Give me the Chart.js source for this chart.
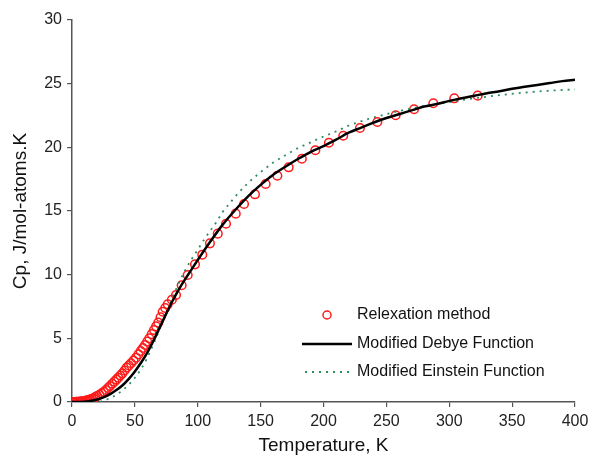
<!DOCTYPE html>
<html>
<head>
<meta charset="utf-8">
<script src="https://cdn.jsdelivr.net/npm/chart.js@4.4.0/dist/chart.umd.min.js"></script>
<style>
  html, body { margin: 0; padding: 0; background: #fff; }
  #wrap { width: 590px; height: 457px; }
</style>
</head>
<body>
<div id="wrap"><canvas id="chart1" width="590" height="457"></canvas></div>
<script>
// measured heat capacity (relaxation method)
let relaxT = [0.5, 1.5, 2.5, 3.5, 4.5, 5.5, 6.5, 7.5, 8.5, 9.5, 10.5, 11.5, 12.5, 13.5, 14.5, 15.7, 17, 18.5, 20, 21.8,
  23.6, 25.3, 27, 28.6, 30.2, 32, 33.7, 35.3, 36.8, 38.4, 40, 41.8, 43.5, 45.2, 46.9, 48.9, 50.9, 52.8, 54.6, 56.4,
  58.1, 59.8, 61.5, 63.4, 65.2, 66.9, 68.6, 70.4, 72.1, 74.1, 76.1, 79.4, 82.7, 87.2, 92.0, 97.8, 103.6, 109.7, 115.9, 122.5,
  130.2, 136.8, 145.5, 154.0, 163.3, 172.3, 182.8, 193.5, 204.3, 215.7, 229.0, 242.8, 257.4, 272.0, 287.3, 304.0, 322.6];
let relaxCp = [0.0, 0.0, 0.0, 0.01, 0.01, 0.02, 0.03, 0.04, 0.05, 0.07, 0.09, 0.11, 0.14, 0.17, 0.2, 0.24, 0.3, 0.38, 0.47, 0.57,
  0.68, 0.8, 0.94, 1.1, 1.26, 1.43, 1.6, 1.76, 1.91, 2.08, 2.25, 2.47, 2.7, 2.87, 3.04, 3.26, 3.48, 3.74, 4.0, 4.24,
  4.48, 4.74, 5.0, 5.33, 5.65, 5.94, 6.23, 6.66, 7.09, 7.38, 7.67, 8.03, 8.4, 9.17, 9.97, 10.81, 11.57, 12.46, 13.22, 14.0,
  14.79, 15.55, 16.31, 17.12, 17.77, 18.43, 19.1, 19.77, 20.36, 20.91, 21.52, 21.99, 22.52, 22.99, 23.46, 23.85, 24.06];

// modified Debye fit
let debyeT = [0, 10, 20, 25, 30, 35, 40, 45, 50, 55, 60, 65, 70, 75, 80, 85, 90, 95, 100, 110, 120, 130, 140, 150, 160,
  170, 180, 190, 200, 210, 220, 230, 240, 250, 260, 270, 280, 290, 300, 310, 320, 330, 340, 350, 360, 370, 380, 390, 400];
let debyeCp = [0, 0.02, 0.2, 0.37, 0.6, 0.92, 1.3, 1.8, 2.4, 3.1, 3.9, 4.85, 5.9, 6.95, 7.95, 8.85, 9.65, 10.4, 11.15, 12.6, 13.95, 15.1, 16.15, 17.05, 17.85,
  18.5, 19.1, 19.65, 20.1, 20.6, 21.15, 21.55, 21.95, 22.3, 22.6, 22.9, 23.2, 23.4, 23.65, 23.85, 24.05, 24.25, 24.4, 24.6, 24.75, 24.9, 25.05, 25.2, 25.3];

// modified Einstein fit
let einsteinT = [0, 20, 25, 30, 35, 40, 45, 50, 55, 60, 65, 70, 75, 80, 85, 90, 95, 100, 105, 110, 115, 120, 125, 130, 140,
  150, 160, 170, 180, 190, 200, 210, 220, 230, 240, 250, 260, 270, 280, 290, 300, 320, 340, 360, 380, 400];
let einsteinCp = [0, 0.0, 0.1, 0.3, 0.55, 0.9, 1.35, 1.9, 2.6, 3.5, 4.6, 5.8, 7.0, 8.2, 9.35, 10.35, 11.2, 11.95, 12.75, 13.45, 14.15, 14.95, 15.55, 16.15, 17.2,
  18.05, 18.8, 19.4, 19.95, 20.4, 20.85, 21.25, 21.7, 22.05, 22.35, 22.6, 22.85, 23.05, 23.25, 23.4, 23.55, 23.85, 24.1, 24.3, 24.45, 24.55];

let xTicks = [0, 50, 100, 150, 200, 250, 300, 350, 400];
let yTicks = [0, 5, 10, 15, 20, 25, 30];

function toPoints(xs, ys) {
  let pts = [];
  for (let i = 0; i < xs.length; i++) {
    pts.push({x: xs[i], y: ys[i]});
  }
  return pts;
}

const FONT = "Liberation Sans, Arial, Helvetica, sans-serif";
const GREEN = "#2b8c5e";

// legend drawn inside the plot, lower right
const insideLegend = {
  id: "insideLegend",
  afterDraw(chart) {
    let ctx = chart.ctx;
    let area = chart.chartArea;
    let x0 = area.left + 230;
    let textX = area.left + 285;
    let rows = [area.top + 295, area.top + 324, area.top + 352];
    ctx.save();
    ctx.font = "16px " + FONT;
    ctx.fillStyle = "#111";
    ctx.textBaseline = "middle";

    // circle marker
    ctx.strokeStyle = "#ff1a1a";
    ctx.lineWidth = 1.5;
    ctx.beginPath();
    ctx.arc(x0 + 25, rows[0], 4, 0, Math.PI * 2);
    ctx.stroke();
    ctx.fillText(chart.data.datasets[0].label, textX, rows[0]);

    // solid line
    ctx.strokeStyle = "#000";
    ctx.lineWidth = 2.5;
    ctx.beginPath();
    ctx.moveTo(x0, rows[1]);
    ctx.lineTo(x0 + 50, rows[1]);
    ctx.stroke();
    ctx.fillText(chart.data.datasets[1].label, textX, rows[1]);

    // dotted line
    ctx.strokeStyle = GREEN;
    ctx.lineWidth = 1.8;
    ctx.setLineDash([2, 5]);
    ctx.beginPath();
    ctx.moveTo(x0 + 3, rows[2]);
    ctx.lineTo(x0 + 47, rows[2]);
    ctx.stroke();
    ctx.setLineDash([]);
    ctx.fillText(chart.data.datasets[2].label, textX, rows[2]);
    ctx.restore();
  }
};

let ctx1 = document.getElementById("chart1");

let myChart1 = new Chart(ctx1, {
  type: "scatter",
  data: {
    datasets: [{
      label: "Relexation method",
      data: toPoints(relaxT, relaxCp),
      pointStyle: "circle",
      pointRadius: 4.3,
      pointBorderWidth: 1.5,
      pointBorderColor: "#ff1a1a",
      pointBackgroundColor: "rgba(0,0,0,0)",
      showLine: false,
      order: 3
    }, {
      label: "Modified Debye Function",
      data: toPoints(debyeT, debyeCp),
      showLine: true,
      borderColor: "#000",
      borderWidth: 2.5,
      pointRadius: 0,
      cubicInterpolationMode: "monotone",
      order: 1
    }, {
      label: "Modified Einstein Function",
      data: toPoints(einsteinT, einsteinCp),
      showLine: true,
      borderColor: GREEN,
      borderWidth: 1.8,
      borderDash: [2, 5],
      pointRadius: 0,
      cubicInterpolationMode: "monotone",
      order: 2
    }]
  },
  options: {
    responsive: false,
    animation: false,
    layout: { padding: { top: 20, right: 15, left: 9, bottom: 0 } },
    plugins: {
      legend: { display: false },
      tooltip: { enabled: false }
    },
    scales: {
      x: {
        type: "linear",
        min: 0,
        max: 400,
        afterBuildTicks: function(scale) { scale.ticks = xTicks.map(v => ({value: v})); },
        afterFit: function(scale) {
          scale.height = 55;
          scale.paddingLeft = 0;
          scale.paddingRight = 0;
        },
        grid: { drawOnChartArea: false, tickLength: 5, color: "#555", lineWidth: 1.2 },
        border: { color: "#555", width: 1.5 },
        ticks: { color: "#222", font: { family: FONT, size: 16 }, padding: 5, maxRotation: 0 },
        title: {
          display: true,
          text: "Temperature, K",
          color: "#111",
          font: { family: FONT, size: 19 },
          padding: { top: 0, bottom: 0 }
        }
      },
      y: {
        type: "linear",
        min: 0,
        max: 30,
        afterBuildTicks: function(scale) { scale.ticks = yTicks.map(v => ({value: v})); },
        afterFit: function(scale) { scale.width = 63; },
        grid: { drawOnChartArea: false, tickLength: 5, color: "#555", lineWidth: 1.2 },
        border: { color: "#555", width: 1.5 },
        ticks: { color: "#222", font: { family: FONT, size: 16 }, padding: 5 },
        title: {
          display: true,
          text: "Cp, J/mol-atoms.K",
          color: "#111",
          font: { family: FONT, size: 19 },
          padding: { top: 0, bottom: 0 }
        }
      }
    }
  },
  plugins: [insideLegend]
});
</script>
</body>
</html>
